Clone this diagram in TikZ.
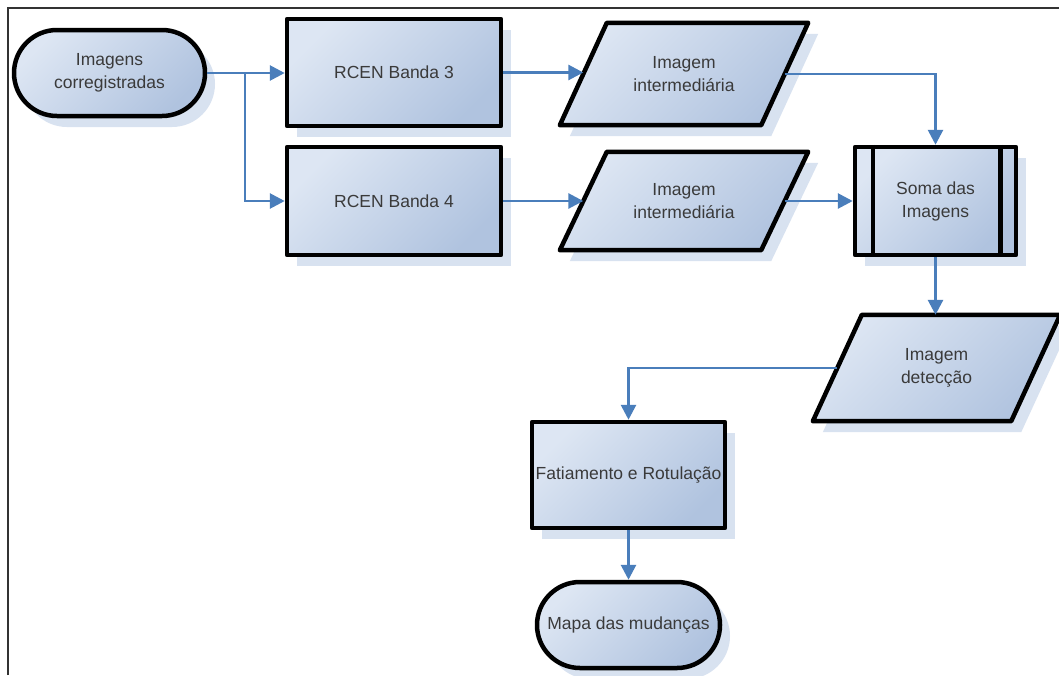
\documentclass[tikz,border=0pt]{standalone}
\usepackage{fontspec}
\setmainfont{Liberation Sans}
\usetikzlibrary{arrows.meta,shapes.misc,shadows,calc}
\definecolor{arrowc}{HTML}{4A7EBB}
\definecolor{shadowc}{HTML}{D8E2F0}
\definecolor{fillA}{HTML}{DDE6F3}
\definecolor{fillB}{HTML}{B0C3DF}
\definecolor{txtc}{HTML}{3A3A3A}
\definecolor{framec}{HTML}{333333}
\pgfdeclarelayer{back}
\pgfdeclarelayer{bg}
\pgfsetlayers{back,bg,main}
\tikzset{
  txt/.style={text=txtc, align=center, inner sep=0pt, font=\fontsize{17.5}{23}\selectfont},
  shapeline/.style={draw=black, line width=4.5pt, line join=round, top color=fillA, bottom color=fillB, shading angle=45},
  box/.style={txt, shapeline, drop shadow={shadow xshift=10pt, shadow yshift=-11pt, fill=shadowc, opacity=1}},
  termbox/.style={box, rounded rectangle},
  procbox/.style={box, rectangle},
  arr/.style={draw=arrowc, line width=2.8pt, -{Triangle[length=15pt,width=15pt]}},
}
\newcommand\paral[2]{%
  \begin{pgfonlayer}{bg}
  \fill[shadowc] ($(#1.north west)+(#2+10,11)$) -- ($(#1.north east)+(#2+10,11)$) -- ($(#1.south east)+(-#2+10,11)$) -- ($(#1.south west)+(-#2+10,11)$) -- cycle;
  \path[shapeline] ($(#1.north west)+(#2,0)$) -- ($(#1.north east)+(#2,0)$) -- ($(#1.south east)+(-#2,0)$) -- ($(#1.south west)+(-#2,0)$) -- cycle;
  \end{pgfonlayer}}
\begin{document}
\begin{tikzpicture}[x=1pt,y=-1pt]
\useasboundingbox (0,0) rectangle (1059,675);
\begin{pgfonlayer}{back}
\fill[white] (0,0) rectangle (1059,675);
\draw[framec, line width=2.5pt] (8,675) -- (8,8) -- (1059,8);
\end{pgfonlayer}

\node[termbox, minimum width=191, minimum height=86] (start) at (109.5,73) {Imagens\\corregistradas};
\node[procbox, minimum width=214, minimum height=107] (r3) at (394,72.5) {RCEN Banda 3};
\node[procbox, minimum width=214, minimum height=108] (r4) at (394,201) {RCEN Banda 4};

\node[txt, minimum width=201, minimum height=102] (p1) at (684,74) {Imagem\\intermediária};
\paral{p1}{23.5}
\node[txt, minimum width=201, minimum height=98] (p2) at (684,201) {Imagem\\intermediária};
\paral{p2}{23.5}

\node[procbox, minimum width=161, minimum height=108] (soma) at (935.5,201) {Soma das\\Imagens};
\draw[line width=4.5pt] ([xshift=20pt]soma.north west) -- ([xshift=20pt]soma.south west);
\draw[line width=4.5pt] ([xshift=-18pt]soma.north east) -- ([xshift=-18pt]soma.south east);

\node[txt, minimum width=198, minimum height=106] (p3) at (936.5,368) {Imagem\\detecção};
\paral{p3}{24.5}

\node[procbox, minimum width=193, minimum height=106] (fat) at (628.5,475) {Fatiamento e Rotulação};
\node[termbox, minimum width=183, minimum height=86] (mapa) at (628.5,625) {Mapa das mudanças};

\coordinate (br) at (245,73);
\path[arr] (start.east) -- (start.east -| r3.west);
\path[arr] (br) |- (r4.west);
\path[arr] (r3.east) -- (r3.east -| p1.west);
\path[arr] (r4.east) -- (p2.west);
\path[arr] (p1.east) -| (soma.north);
\path[arr] (p2.east) -- (soma.west);
\path[arr] (soma.south) -- (soma.south |- p3.north);
\path[arr] (p3.west) -| (fat.north);
\path[arr] (fat.south) -- (mapa.north);
\end{tikzpicture}
\end{document}
